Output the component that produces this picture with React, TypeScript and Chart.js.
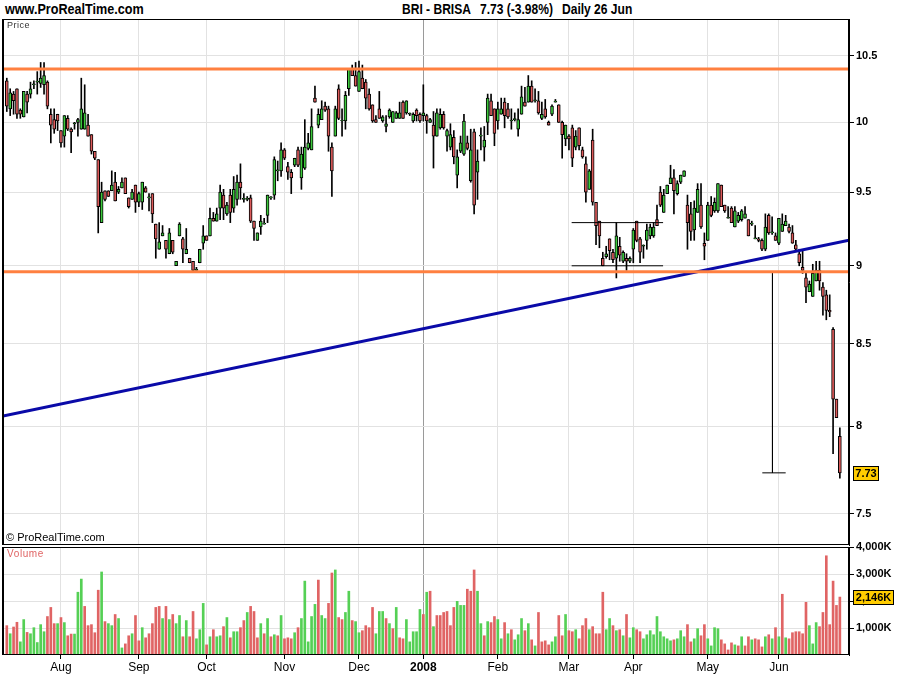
import React, { useEffect, useRef } from 'react';
import { Chart, registerables } from 'chart.js';

Chart.register(...registerables);

const FONT = '"Liberation Sans", Arial, sans-serif';

// Month boundaries (trading-day index of first session of each month)
const monthTickIndex = [16, 39, 59, 82, 104, 123, 145, 166, 185, 207, 228];
const monthTickLabels = ['Aug', 'Sep', 'Oct', 'Nov', 'Dec', '2008', 'Feb', 'Mar', 'Apr', 'May', 'Jun'];
const yearTickIndex = 123;
const priceTickValues = [7.5, 8, 8.5, 9, 9.5, 10, 10.5];
const volumeTickValues = [1000, 2000, 3000, 4000];

// Daily OHLC, 10 Jul 2007 .. 26 Jun 2008
const opens = [
  10.31, 10.10, 10.21, 10.25, 10.09, 10.04, 10.21, 10.21, 10.28, 10.30,
  10.29, 10.28, 10.30, 10.06, 10.02, 10.06, 9.94, 9.90, 10.03, 9.95,
  9.99, 10.00, 9.95, 9.95, 9.98, 9.91, 9.79, 9.73, 9.29, 9.51,
  9.51, 9.51, 9.57, 9.50, 9.53, 9.60, 9.46, 9.45, 9.55, 9.43,
  9.43, 9.53, 9.46, 9.49, 9.28, 9.11, 9.20, 9.17, 9.08, 9.17,
  9.00, 9.20, 9.18, 9.08, 9.05, 9.03, 8.97, 9.02, 9.15, 9.20,
  9.20, 9.32, 9.30, 9.39, 9.48, 9.35, 9.48, 9.39, 9.45, 9.57,
  9.45, 9.45, 9.46, 9.30, 9.17, 9.26, 9.28, 9.34, 9.46, 9.48,
  9.65, 9.65, 9.80, 9.68, 9.64, 9.69, 9.80, 9.60, 9.67, 9.81,
  9.80, 10.18, 9.98, 10.02, 10.12, 10.10, 9.82, 9.90, 10.25, 10.01,
  10.01, 10.25, 10.40, 10.35, 10.23, 10.33, 10.30, 10.21, 10.13, 10.02,
  10.10, 10.01, 9.97, 10.04, 10.00, 10.03, 10.03, 10.15, 10.07, 10.06,
  10.01, 10.09, 10.06, 10.05, 10.05, 10.00, 9.98, 9.90, 9.96, 10.06,
  9.90, 9.82, 9.89, 9.62, 9.79, 9.77, 9.85, 9.58, 9.93, 9.64,
  9.90, 9.82, 10.00, 10.16, 10.10, 10.01, 10.06, 10.15, 10.10, 10.01,
  10.02, 9.95, 10.06, 10.15, 10.15, 10.27, 10.16, 10.16, 10.03, 10.10,
  10.00, 10.06, 10.15, 10.13, 10.00, 9.88, 9.90, 9.96, 9.82, 9.96,
  9.80, 9.70, 9.52, 9.87, 9.43, 9.30, 9.05, 9.06, 9.18, 9.09,
  9.05, 9.13, 9.03, 9.05, 9.03, 9.11, 9.30, 9.18, 9.13, 9.17,
  9.20, 9.20, 9.31, 9.50, 9.36, 9.49, 9.56, 9.60, 9.49, 9.57,
  9.61, 9.41, 9.35, 9.24, 9.36, 9.41, 9.15, 9.17, 9.41, 9.37,
  9.37, 9.55, 9.41, 9.32, 9.39, 9.26, 9.30, 9.31, 9.32, 9.31,
  9.28, 9.18, 9.18, 9.17, 9.11, 9.34, 9.22, 9.20, 9.15, 9.23,
  9.27, 9.26, 9.22, 9.14, 9.08, 8.99, 8.92, 8.83, 8.80, 8.90,
  8.97, 8.86, 8.81, 8.71, 8.59, 8.16, 7.94,
];
const highs = [
  10.33, 10.25, 10.23, 10.25, 10.10, 10.23, 10.23, 10.30, 10.31, 10.38,
  10.45, 10.45, 10.31, 10.10, 10.10, 10.06, 9.94, 10.05, 10.05, 9.96,
  10.00, 10.03, 10.33, 10.28, 10.06, 9.91, 9.79, 9.73, 9.57, 9.51,
  9.51, 9.65, 9.64, 9.54, 9.60, 9.60, 9.46, 9.52, 9.55, 9.50,
  9.57, 9.54, 9.49, 9.49, 9.28, 9.29, 9.27, 9.17, 9.25, 9.17,
  9.03, 9.29, 9.19, 9.25, 9.05, 9.03, 8.99, 9.11, 9.27, 9.20,
  9.39, 9.36, 9.39, 9.55, 9.52, 9.43, 9.52, 9.61, 9.62, 9.70,
  9.49, 9.47, 9.48, 9.30, 9.22, 9.34, 9.32, 9.48, 9.47, 9.75,
  9.72, 9.85, 9.81, 9.71, 9.66, 9.74, 9.82, 9.82, 10.02, 9.92,
  10.10, 10.27, 10.10, 10.16, 10.15, 10.12, 9.85, 10.12, 10.28, 10.10,
  10.23, 10.40, 10.43, 10.45, 10.46, 10.43, 10.32, 10.25, 10.13, 10.05,
  10.23, 10.05, 10.05, 10.10, 10.08, 10.08, 10.15, 10.16, 10.16, 10.07,
  10.07, 10.10, 10.07, 10.28, 10.06, 10.03, 10.08, 10.10, 10.10, 10.08,
  9.95, 9.99, 9.94, 9.80, 9.90, 10.06, 9.90, 9.95, 9.95, 9.80,
  9.96, 9.97, 10.21, 10.21, 10.10, 10.15, 10.18, 10.18, 10.14, 10.10,
  10.07, 10.10, 10.27, 10.26, 10.35, 10.31, 10.25, 10.23, 10.15, 10.17,
  10.01, 10.13, 10.17, 10.13, 10.01, 9.98, 9.91, 9.98, 9.94, 9.96,
  9.82, 9.75, 9.66, 9.95, 9.43, 9.30, 9.09, 9.13, 9.18, 9.11,
  9.29, 9.19, 9.10, 9.08, 9.06, 9.25, 9.30, 9.19, 9.14, 9.28,
  9.28, 9.29, 9.41, 9.54, 9.52, 9.55, 9.69, 9.66, 9.58, 9.62,
  9.65, 9.48, 9.43, 9.44, 9.56, 9.56, 9.22, 9.43, 9.47, 9.46,
  9.56, 9.55, 9.41, 9.40, 9.40, 9.40, 9.36, 9.38, 9.40, 9.31,
  9.30, 9.27, 9.19, 9.18, 9.35, 9.35, 9.33, 9.22, 9.32, 9.35,
  9.34, 9.28, 9.27, 9.17, 9.11, 9.10, 8.95, 8.90, 9.01, 9.03,
  9.03, 8.89, 8.84, 8.81, 8.60, 8.16, 7.99,
];
const lows = [
  10.08, 10.05, 10.06, 10.03, 10.03, 10.04, 10.07, 10.18, 10.25, 10.21,
  10.26, 10.21, 10.10, 9.85, 9.92, 9.94, 9.82, 9.82, 9.94, 9.78,
  9.95, 9.90, 9.95, 9.95, 9.90, 9.77, 9.73, 9.22, 9.29, 9.44,
  9.47, 9.51, 9.44, 9.49, 9.53, 9.49, 9.39, 9.45, 9.36, 9.40,
  9.38, 9.50, 9.37, 9.29, 9.05, 9.11, 9.20, 9.05, 9.08, 9.08,
  9.00, 9.20, 9.02, 9.08, 9.02, 8.96, 8.97, 9.02, 9.11, 9.17,
  9.20, 9.30, 9.30, 9.31, 9.31, 9.34, 9.29, 9.36, 9.41, 9.45,
  9.43, 9.44, 9.29, 9.17, 9.17, 9.21, 9.28, 9.29, 9.45, 9.45,
  9.58, 9.61, 9.73, 9.59, 9.49, 9.68, 9.68, 9.52, 9.66, 9.80,
  9.80, 10.15, 9.96, 10.02, 10.08, 9.79, 9.47, 9.90, 10.02, 9.90,
  9.95, 10.20, 10.35, 10.27, 10.23, 10.25, 10.10, 10.09, 10.00, 10.00,
  10.03, 10.00, 9.93, 10.03, 10.00, 10.03, 10.03, 10.03, 10.06, 10.05,
  10.00, 10.01, 10.00, 10.01, 9.92, 10.00, 9.67, 9.90, 9.95, 9.95,
  9.79, 9.80, 9.70, 9.53, 9.78, 9.76, 9.80, 9.57, 9.35, 9.45,
  9.80, 9.72, 9.91, 10.05, 9.83, 9.95, 10.06, 9.96, 10.03, 9.95,
  10.01, 9.90, 10.06, 10.12, 10.15, 10.15, 10.15, 10.06, 10.02, 10.03,
  9.98, 10.05, 10.15, 10.00, 9.74, 9.83, 9.80, 9.68, 9.80, 9.80,
  9.74, 9.43, 9.52, 9.41, 9.14, 9.12, 9.00, 9.05, 9.04, 9.02,
  8.92, 9.03, 9.02, 8.97, 9.02, 9.02, 9.16, 9.02, 9.05, 9.11,
  9.18, 9.19, 9.27, 9.40, 9.36, 9.49, 9.56, 9.35, 9.48, 9.56,
  9.61, 9.11, 9.17, 9.17, 9.36, 9.25, 9.04, 9.17, 9.33, 9.36,
  9.36, 9.40, 9.36, 9.32, 9.29, 9.26, 9.29, 9.30, 9.32, 9.20,
  9.27, 9.18, 9.16, 9.10, 9.10, 9.21, 9.21, 9.17, 9.14, 9.23,
  9.27, 9.22, 9.15, 9.10, 9.00, 8.95, 8.76, 8.83, 8.80, 8.90,
  8.84, 8.68, 8.65, 8.67, 7.84, 8.05, 7.70,
];
const closes = [
  10.12, 10.22, 10.16, 10.06, 10.06, 10.23, 10.15, 10.25, 10.28, 10.30,
  10.33, 10.35, 10.12, 9.98, 9.95, 10.01, 9.85, 10.05, 9.95, 9.93,
  9.99, 10.02, 10.10, 10.07, 9.90, 9.79, 9.74, 9.40, 9.50, 9.45,
  9.47, 9.55, 9.44, 9.52, 9.57, 9.49, 9.40, 9.50, 9.43, 9.49,
  9.57, 9.50, 9.46, 9.35, 9.18, 9.16, 9.22, 9.11, 9.22, 9.09,
  9.03, 9.28, 9.11, 9.11, 9.02, 8.97, 8.97, 9.11, 9.20, 9.17,
  9.32, 9.30, 9.35, 9.50, 9.39, 9.41, 9.36, 9.52, 9.57, 9.53,
  9.45, 9.45, 9.30, 9.25, 9.22, 9.30, 9.28, 9.48, 9.46, 9.73,
  9.65, 9.80, 9.74, 9.64, 9.60, 9.74, 9.69, 9.77, 9.82, 9.85,
  9.97, 10.15, 10.06, 10.10, 10.09, 9.90, 9.65, 10.10, 10.03, 10.01,
  10.20, 10.40, 10.35, 10.27, 10.38, 10.25, 10.18, 10.10, 10.01, 10.00,
  10.03, 10.04, 9.99, 10.09, 10.08, 10.07, 10.07, 10.03, 10.16, 10.06,
  10.06, 10.05, 10.01, 10.07, 10.01, 10.02, 9.90, 10.07, 10.06, 9.96,
  9.94, 9.91, 9.75, 9.75, 9.85, 10.01, 9.81, 9.80, 9.41, 9.72,
  9.90, 9.87, 10.18, 10.05, 9.92, 10.10, 10.10, 10.05, 10.04, 10.01,
  10.02, 10.02, 10.19, 10.12, 10.27, 10.15, 10.16, 10.07, 10.06, 10.04,
  9.98, 10.12, 10.15, 10.00, 9.91, 9.98, 9.88, 9.74, 9.90, 9.83,
  9.75, 9.50, 9.65, 9.43, 9.27, 9.20, 9.00, 9.08, 9.10, 9.04,
  9.20, 9.07, 9.09, 9.03, 9.05, 9.24, 9.17, 9.09, 9.13, 9.24,
  9.26, 9.26, 9.27, 9.41, 9.48, 9.55, 9.60, 9.51, 9.56, 9.62,
  9.65, 9.29, 9.23, 9.39, 9.52, 9.26, 9.13, 9.41, 9.34, 9.43,
  9.56, 9.40, 9.37, 9.32, 9.29, 9.37, 9.34, 9.37, 9.35, 9.20,
  9.28, 9.18, 9.17, 9.11, 9.26, 9.22, 9.22, 9.17, 9.32, 9.28,
  9.30, 9.23, 9.15, 9.11, 9.02, 8.97, 8.86, 8.88, 8.95, 8.97,
  8.90, 8.80, 8.71, 8.70, 8.16, 8.05, 7.73,
];
// Volume in thousands of shares
const volumes = [
  1087, 787, 1037, 1212, 487, 1312, 837, 787, 1012, 462,
  1125, 862, 1425, 1762, 1162, 1162, 1387, 1200, 712, 775,
  775, 2325, 2812, 1800, 1087, 1125, 825, 2400, 3075, 1237,
  1162, 1087, 1500, 1350, 262, 412, 712, 787, 1462, 525,
  1012, 637, 787, 1162, 1762, 1800, 1350, 1800, 1312, 1500,
  1162, 1462, 675, 1275, 675, 1612, 600, 937, 1912, 375,
  675, 937, 675, 712, 1050, 1387, 637, 862, 862, 1012,
  1275, 1575, 1800, 1612, 637, 1162, 787, 1350, 675, 750,
  712, 1462, 600, 637, 600, 825, 1012, 1350, 2737, 487,
  1425, 1875, 2775, 1462, 1350, 1912, 3037, 3150, 1387, 1312,
  1575, 2362, 1275, 1237, 825, 900, 1087, 1012, 1762, 787,
  1612, 1612, 1350, 1162, 975, 1762, 637, 600, 1312, 487,
  862, 862, 1687, 1500, 2325, 2362, 1050, 1462, 1462, 1575,
  1612, 1087, 1762, 1987, 1837, 1837, 2437, 2362, 3150, 2362,
  1162, 712, 1237, 1200, 1425, 1312, 600, 1200, 787, 937,
  562, 750, 1350, 900, 1162, 562, 337, 1575, 487, 525,
  375, 487, 675, 1462, 712, 1500, 900, 862, 937, 600,
  1087, 1350, 937, 1050, 787, 787, 2325, 937, 1350, 1087,
  900, 937, 712, 1500, 637, 1012, 937, 862, 600, 750,
  900, 750, 1425, 862, 675, 600, 525, 562, 600, 900,
  675, 1125, 487, 600, 975, 712, 1125, 600, 337, 1012,
  975, 562, 412, 187, 450, 375, 337, 675, 337, 675,
  562, 600, 562, 300, 675, 750, 600, 1012, 675, 2250,
  637, 600, 825, 862, 862, 787, 1950, 1087, 412, 1200,
  1050, 1575, 3675, 1125, 2737, 1837, 2146,
];
// 1 = up volume bar (green), 0 = down volume bar (red)
const volumeUp = [
  0, 1, 0, 0, 1, 1, 0, 1, 1, 1, 1, 1, 0, 0, 0, 1, 0, 1, 0, 0,
  1, 1, 1, 0, 0, 0, 0, 0, 1, 0, 1, 1, 0, 1, 1, 0, 0, 1, 0, 0,
  1, 0, 0, 0, 0, 0, 1, 0, 1, 0, 1, 1, 0, 1, 0, 0, 1, 1, 1, 0,
  1, 0, 1, 1, 0, 1, 0, 1, 1, 0, 0, 1, 0, 0, 0, 1, 0, 1, 0, 1,
  0, 1, 0, 0, 0, 1, 0, 1, 1, 1, 1, 1, 0, 1, 1, 0, 0, 1, 0, 0,
  1, 1, 0, 1, 1, 0, 0, 0, 0, 1, 1, 1, 0, 1, 0, 1, 0, 0, 1, 1,
  1, 1, 1, 0, 1, 0, 1, 0, 0, 0, 0, 0, 0, 1, 1, 1, 0, 0, 0, 1,
  1, 0, 1, 0, 0, 1, 1, 0, 1, 0, 1, 1, 1, 0, 1, 0, 1, 0, 0, 0,
  0, 1, 1, 0, 0, 1, 0, 0, 1, 0, 0, 0, 1, 0, 0, 0, 0, 1, 1, 0,
  1, 0, 1, 0, 1, 1, 0, 0, 1, 1, 1, 1, 1, 1, 1, 1, 1, 0, 1, 1,
  1, 0, 0, 1, 1, 0, 0, 1, 1, 1, 1, 0, 0, 0, 0, 1, 0, 1, 0, 0,
  1, 0, 0, 0, 1, 0, 1, 0, 1, 0, 1, 0, 0, 0, 0, 0, 0, 1, 1, 1,
  0, 0, 0, 0, 0, 0, 0,
];

// Drawn annotations (index, price)
const horizontalLevels = [10.4, 8.96];
const trendLineIndex = [-1.12, 248.7];
const trendLinePrice = [8.06, 9.17];
const rangeBoxIndex = [166.8, 193.8];
const rangeBoxPrice = [9.29, 9.0];
const targetIndex = 226.1;
const targetCapIndex = [223.1, 230.0];
const targetPrice = [8.96, 7.73];

const lastPrice = 7.73;
const lastVolume = 2146;

const X_MIN = -1.12;
const X_MAX = 248.7;
const PRICE_MIN = 7.331;
const PRICE_MAX = 10.789;

const UP = '#3cc83c';
const DOWN = '#dc5a5a';
const VOL_UP = '#55d055';
const VOL_DOWN = '#e06464';
const ORANGE = '#ff8040';
const BLUE = '#0a0aa8';
const GRID = '#e2e2e2';

const framePlugin = {
  id: 'panelFrame',
  afterDraw(chart: any) {
    const { ctx, chartArea: a } = chart;
    ctx.save();
    ctx.strokeStyle = '#000';
    ctx.lineWidth = 1;
    ctx.beginPath();
    ctx.moveTo(a.left, a.top + 0.5);
    ctx.lineTo(a.right, a.top + 0.5);
    ctx.moveTo(a.left, a.bottom - 0.5);
    ctx.lineTo(a.right, a.bottom - 0.5);
    ctx.moveTo(a.right - 0.5, a.top);
    ctx.lineTo(a.right - 0.5, a.bottom);
    ctx.stroke();
    ctx.fillStyle = '#000';
    ctx.fillRect(a.left - 1, a.top, 2, a.bottom - a.top);
    ctx.restore();
  },
};

function makeTagPlugin(id: string, scaleId: string, value: number, text: string, width: number) {
  return {
    id,
    afterDraw(chart: any) {
      const { ctx, chartArea: a } = chart;
      const y = Math.round(chart.scales[scaleId].getPixelForValue(value));
      const x = Math.round(a.right + 4);
      ctx.save();
      ctx.fillStyle = '#ffcc00';
      ctx.fillRect(x, y - 7, width, 15);
      ctx.strokeStyle = '#000';
      ctx.lineWidth = 1;
      ctx.strokeRect(x + 0.5, y - 6.5, width - 1, 14);
      ctx.fillStyle = '#000';
      ctx.font = `bold 11px ${FONT}`;
      ctx.textAlign = 'center';
      ctx.textBaseline = 'middle';
      ctx.fillText(text, x + width / 2, y + 1);
      ctx.restore();
    },
  };
}

function xScale(showLabels: boolean, height: number) {
  return {
    type: 'linear',
    min: X_MIN,
    max: X_MAX,
    bounds: 'data',
    offset: false,
    afterBuildTicks: (s: any) => {
      s.ticks = monthTickIndex.map((v) => ({ value: v }));
    },
    afterFit: (s: any) => {
      s.height = height;
      s.paddingLeft = 0;
      s.paddingRight = 0;
    },
    grid: {
      offset: false,
      color: (c: any) => (c.tick && c.tick.value === yearTickIndex ? '#9a9a9a' : GRID),
      lineWidth: 1,
      drawTicks: showLabels,
      tickLength: 4,
      tickColor: '#000',
    },
    border: { display: false },
    ticks: {
      display: showLabels,
      autoSkip: false,
      maxRotation: 0,
      padding: 1,
      color: '#000',
      font: (c: any) => ({
        family: FONT,
        size: 12,
        weight: c.tick && c.tick.value === yearTickIndex ? 'bold' : 'normal',
      }),
      callback: (v: any) => {
        const k = monthTickIndex.indexOf(Number(v));
        return k >= 0 ? monthTickLabels[k] : '';
      },
    },
  };
}

function yAxisFit(s: any) {
  s.width = 51;
  s.paddingTop = 0;
  s.paddingBottom = 0;
}

export default function App() {
  const priceRef = useRef<HTMLCanvasElement | null>(null);
  const volRef = useRef<HTMLCanvasElement | null>(null);

  useEffect(() => {
    const idx = opens.map((_, i) => i);
    const wickData = idx.map((i) => ({ x: i, y: [lows[i], highs[i]] }));
    const bodyData = idx.map((i) => ({ x: i, y: [opens[i], closes[i]] }));
    const bodyColors = idx.map((i) => (closes[i] >= opens[i] ? UP : DOWN));

    const lineDs = (pts: { x: number; y: number }[], color: string, width: number) => ({
      type: 'line',
      data: pts,
      borderColor: color,
      borderWidth: width,
      pointRadius: 0,
      fill: false,
      tension: 0,
      order: 0,
    });

    const priceChart = new Chart(priceRef.current as HTMLCanvasElement, {
      type: 'bar',
      data: {
        datasets: [
          ...horizontalLevels.map((lv) =>
            lineDs([{ x: X_MIN, y: lv }, { x: X_MAX, y: lv }], ORANGE, 3)
          ),
          lineDs(
            [
              { x: trendLineIndex[0], y: trendLinePrice[0] },
              { x: trendLineIndex[1], y: trendLinePrice[1] },
            ],
            BLUE,
            3
          ),
          ...rangeBoxPrice.map((p) =>
            lineDs([{ x: rangeBoxIndex[0], y: p }, { x: rangeBoxIndex[1], y: p }], '#000', 1)
          ),
          lineDs([{ x: targetIndex, y: targetPrice[0] }, { x: targetIndex, y: targetPrice[1] }], '#000', 1),
          lineDs(
            [
              { x: targetCapIndex[0], y: targetPrice[1] },
              { x: targetCapIndex[1], y: targetPrice[1] },
            ],
            '#000',
            1
          ),
          {
            type: 'bar',
            data: bodyData,
            backgroundColor: bodyColors,
            borderColor: '#000',
            borderWidth: 1,
            borderSkipped: false,
            barThickness: 3,
            minBarLength: 1,
            grouped: false,
            order: 1,
          },
          {
            type: 'bar',
            data: wickData,
            backgroundColor: '#000',
            borderWidth: 0,
            barThickness: 1,
            grouped: false,
            order: 2,
          },
        ] as any,
      },
      options: {
        animation: false,
        responsive: false,
        events: [],
        layout: { padding: { left: 3, top: 19, right: 0, bottom: 1 } },
        plugins: { legend: { display: false }, tooltip: { enabled: false } },
        scales: {
          x: xScale(false, 0) as any,
          y: {
            type: 'logarithmic',
            position: 'right',
            min: PRICE_MIN,
            max: PRICE_MAX,
            bounds: 'data',
            afterBuildTicks: (s: any) => {
              s.ticks = priceTickValues.map((v) => ({ value: v }));
            },
            afterFit: yAxisFit,
            grid: { color: GRID, tickColor: '#000', tickLength: 5, drawTicks: true },
            border: { color: '#000' },
            ticks: {
              autoSkip: false,
              padding: 2,
              color: '#000',
              font: { family: FONT, size: 11, weight: 'bold' },
              callback: (v: any) => String(v),
            },
          } as any,
        },
      },
      plugins: [framePlugin, makeTagPlugin('priceTag', 'y', lastPrice, lastPrice.toFixed(2), 26)],
    });

    const volChart = new Chart(volRef.current as HTMLCanvasElement, {
      type: 'bar',
      data: {
        datasets: [
          {
            data: idx.map((i) => ({ x: i, y: volumes[i] })),
            backgroundColor: idx.map((i) => (volumeUp[i] ? VOL_UP : VOL_DOWN)),
            borderWidth: 0,
            barThickness: 2,
            grouped: false,
          },
        ] as any,
      },
      options: {
        animation: false,
        responsive: false,
        events: [],
        layout: { padding: { left: 3, top: 11, right: 0, bottom: 0 } },
        plugins: { legend: { display: false }, tooltip: { enabled: false } },
        scales: {
          x: xScale(true, 45) as any,
          y: {
            type: 'linear',
            position: 'right',
            min: 0,
            max: 4000,
            bounds: 'data',
            afterBuildTicks: (s: any) => {
              s.ticks = volumeTickValues.map((v) => ({ value: v }));
            },
            afterFit: yAxisFit,
            grid: { color: GRID, tickColor: '#000', tickLength: 5, drawTicks: true },
            border: { color: '#000' },
            ticks: {
              autoSkip: false,
              padding: 2,
              color: '#000',
              font: { family: FONT, size: 11, weight: 'bold' },
              callback: (v: any) => Number(v).toLocaleString('en-US') + 'K',
            },
          } as any,
        },
      },
      plugins: [
        framePlugin,
        makeTagPlugin('volTag', 'y', lastVolume, lastVolume.toLocaleString('en-US') + 'K', 41),
      ],
    });

    return () => {
      priceChart.destroy();
      volChart.destroy();
    };
  }, []);

  const abs = (style: React.CSSProperties): React.CSSProperties => ({ position: 'absolute', ...style });
  const headerText = (left: number, scale: number): React.CSSProperties =>
    abs({
      left,
      top: 1,
      fontFamily: FONT,
      fontWeight: 'bold',
      fontSize: 14,
      lineHeight: '16px',
      color: '#000',
      whiteSpace: 'nowrap',
      transform: `scaleX(${scale})`,
      transformOrigin: 'left top',
    });

  return (
    <div style={abs({ left: 0, top: 0, width: 900, height: 700, background: '#fff', overflow: 'hidden' })}>
      <div style={headerText(5, 0.9)}>www.ProRealTime.com</div>
      <div style={headerText(402, 0.86)}>BRI - BRISA</div>
      <div style={headerText(480, 0.86)}>7.73 (-3.98%)</div>
      <div style={headerText(562, 0.86)}>Daily 26 Jun</div>
      <canvas ref={priceRef} width={900} height={546} style={abs({ left: 0, top: 0 })} />
      <canvas ref={volRef} width={900} height={164} style={abs({ left: 0, top: 536 })} />
      <div
        style={abs({ left: 7, top: 20, fontFamily: FONT, fontSize: 9, color: '#333', letterSpacing: 0.5 })}
      >
        Price
      </div>
      <div style={abs({ left: 6, top: 531, fontFamily: FONT, fontSize: 11, color: '#000' })}>
        © ProRealTime.com
      </div>
      <div
        style={abs({ left: 7, top: 548, fontFamily: FONT, fontSize: 10, color: '#e06464', letterSpacing: 0.6 })}
      >
        Volume
      </div>
    </div>
  );
}
